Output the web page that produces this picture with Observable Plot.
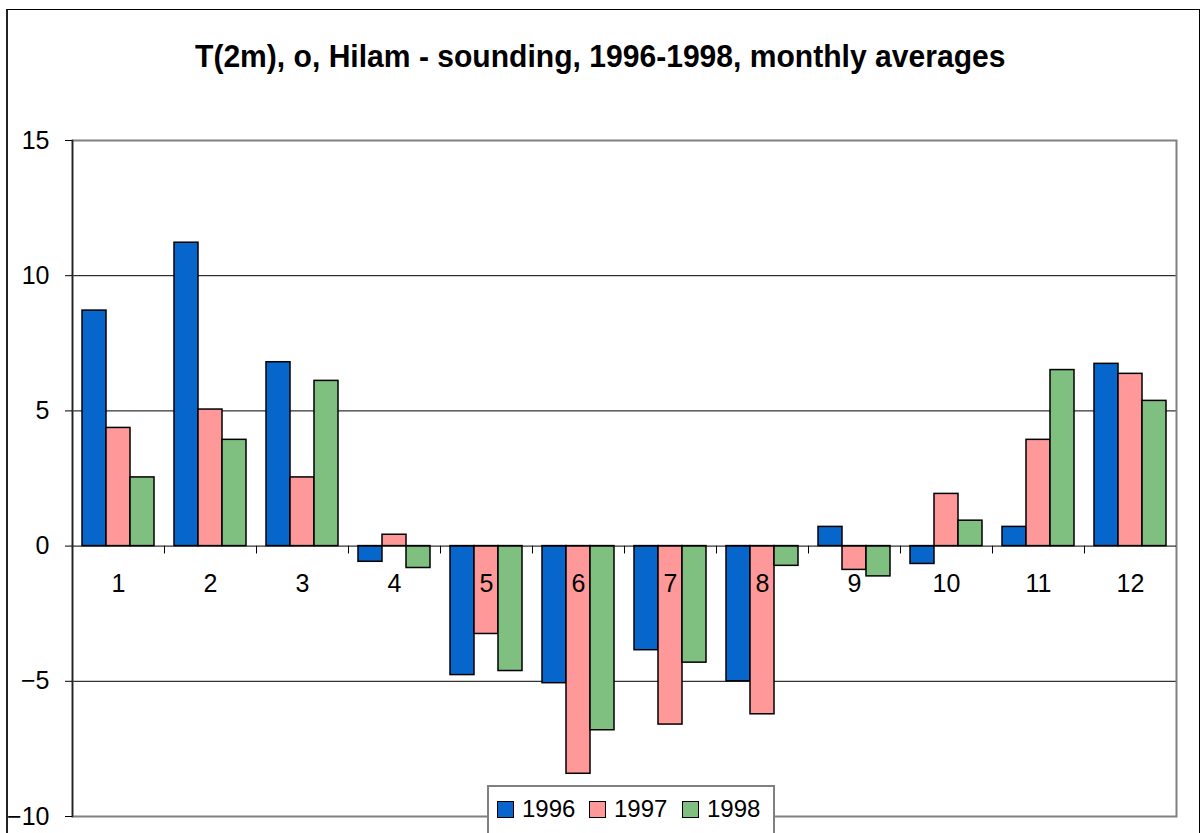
<!DOCTYPE html>
<html>
<head>
<meta charset="utf-8">
<script src="https://cdn.jsdelivr.net/npm/d3@7"></script>
<script src="https://cdn.jsdelivr.net/npm/@observablehq/plot@0.6"></script>
<style>
  html, body { margin: 0; padding: 0; width: 1201px; height: 833px; overflow: hidden; background: white; }
  body { position: relative; font-family: "Liberation Sans", Arial, sans-serif; }
  #chart { position: absolute; left: 0; top: 0; }
  #border { position: absolute; left: 6px; top: 9px; width: 1191px; height: 900px; border-left: 2px solid #222; border-top: 1px solid #000; border-right: 1px solid #000; pointer-events: none; }
  #title { position: absolute; left: 0; top: 40px; width: 1201px; text-align: center; font-size: 32px; line-height: 32px; font-weight: bold; color: #000; }
  #title span { display: inline-block; transform-origin: center; white-space: nowrap; }
  #legend { position: absolute; left: 487px; top: 785px; width: 288px; height: 60px; border: 2px solid #808080; background: white; box-sizing: border-box; }
  .item { position: absolute; top: 0; display: flex; align-items: center; height: 44px; font-size: 24px; }
  .sw { width: 15px; height: 15px; border: 1px solid #000; margin-right: 8px; }
</style>
</head>
<body>
<div id="chart"></div>
<div id="border"></div>
<div id="title"><span>T(2m), o, Hilam - sounding, 1996-1998, monthly averages</span></div>
<div id="legend"></div>
<script>
// ---- data ----
const months = [1, 2, 3, 4, 5, 6, 7, 8, 9, 10, 11, 12];
const years = ["1996", "1997", "1998"];
const colors = ["#0666cc", "#ff9999", "#7fbf7f"];
const v1996 = [8.71, 11.22, 6.80, -0.58, -4.77, -5.07, -3.85, -5.00, 0.71, -0.66, 0.71, 6.74];
const v1997 = [4.37, 5.05, 2.54, 0.42, -3.25, -8.42, -6.60, -6.22, -0.88, 1.93, 3.93, 6.37];
const v1998 = [2.54, 3.93, 6.11, -0.81, -4.62, -6.81, -4.31, -0.73, -1.12, 0.94, 6.51, 5.37];
const yTicks = [-10, -5, 0, 5, 10, 15];
const gridTicks = [-5, 5, 10];

const series = [v1996, v1997, v1998];
const data = months.flatMap((m, i) => years.map((yr, j) => ({month: m, year: yr, value: series[j][i]})));

const tickShape = {draw(context, l) { context.moveTo(0, 0); context.lineTo(0, -l); }};

const chart = Plot.plot({
  width: 1201,
  height: 833,
  marginLeft: 68,
  marginRight: 21,
  marginTop: 140,
  marginBottom: 17,
  style: {fontFamily: "'Liberation Sans', Arial, sans-serif", fontSize: "24px", background: "transparent", color: "black"},
  fx: {domain: months, padding: 0, axis: null},
  x: {domain: years, paddingInner: 0, paddingOuter: 0.39, axis: null},
  y: {domain: [-10, 15], axis: null},
  color: {domain: years, range: colors},
  marks: [
    Plot.ruleY(gridTicks, {stroke: "black", strokeWidth: 1}),
    Plot.frame({stroke: "#808080", strokeWidth: 2, facet: "super"}),
    Plot.barY(data, {fx: "month", x: "year", y: "value", fill: "year", stroke: "black", strokeWidth: 1.5}),
    Plot.ruleY([0], {stroke: "black", strokeWidth: 1}),
    Plot.vector(months, {fx: d => d, y: () => 0, frameAnchor: "left", length: 7, rotate: 180, anchor: "start", shape: tickShape, stroke: "black", strokeWidth: 1}),
    Plot.text(months, {fx: d => d, y: () => 0, text: d => String(d), dy: 38, fontSize: 25, frameAnchor: "middle", fill: "black"}),
    Plot.frame({anchor: "left", stroke: "#222", strokeWidth: 1.5, facet: "super"}),
    Plot.axisY(yTicks, {anchor: "left", label: null, tickSize: 7, tickPadding: 16, tickFormat: d => d < 0 ? "\u2212" + Math.abs(d) : String(d), fontSize: 25})
  ]
});
document.getElementById("chart").appendChild(chart);

// title: scale to the width it has in the reference
const span = document.querySelector("#title span");
const w = span.offsetWidth;
span.style.transform = `scaleX(${810 / w})`;

// legend
const legend = document.getElementById("legend");
const lefts = [8, 100, 193];
years.forEach((yr, i) => {
  const item = document.createElement("div");
  item.className = "item";
  item.style.left = lefts[i] + "px";
  const sw = document.createElement("div");
  sw.className = "sw";
  sw.style.background = colors[i];
  const tx = document.createElement("span");
  tx.textContent = yr;
  item.appendChild(sw);
  item.appendChild(tx);
  legend.appendChild(item);
});
</script>
</body>
</html>
